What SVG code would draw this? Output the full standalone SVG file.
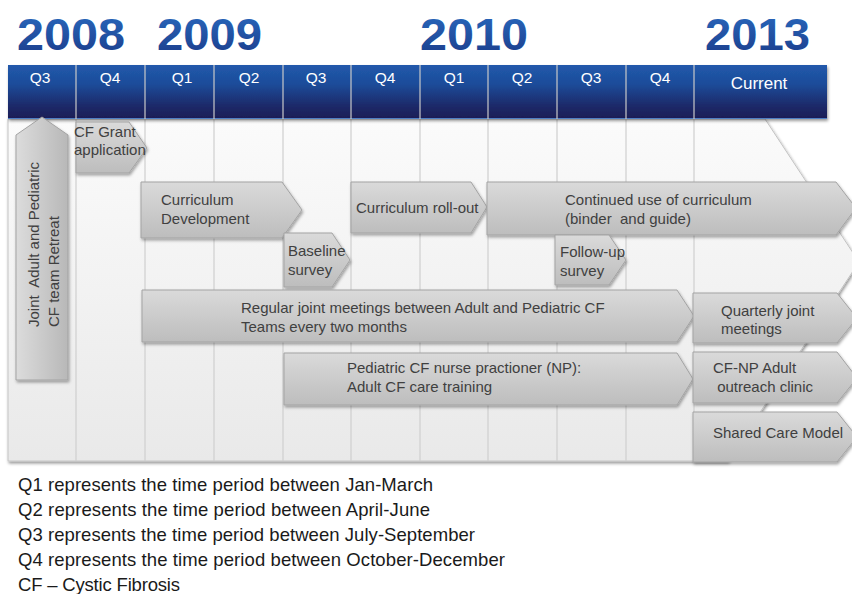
<svg xmlns="http://www.w3.org/2000/svg" width="852" height="594" viewBox="0 0 852 594">
<defs>
<linearGradient id="hdr" x1="0" y1="0" x2="0" y2="1">
<stop offset="0" stop-color="#2159ab"/>
<stop offset="0.35" stop-color="#1d4c9a"/>
<stop offset="0.75" stop-color="#1b2a6a"/>
<stop offset="1" stop-color="#1a1d55"/>
</linearGradient>
<linearGradient id="yr" x1="0" y1="0" x2="0" y2="1">
<stop offset="0" stop-color="#2a6bc0"/>
<stop offset="1" stop-color="#1a3a88"/>
</linearGradient>
<linearGradient id="pnl" x1="0" y1="0" x2="0" y2="1">
<stop offset="0" stop-color="#fbfbfb"/>
<stop offset="1" stop-color="#e9e9e9"/>
</linearGradient>
<linearGradient id="arr" x1="0" y1="0" x2="0" y2="1">
<stop offset="0" stop-color="#dadada"/>
<stop offset="1" stop-color="#bdbdbd"/>
</linearGradient>
<linearGradient id="varr" x1="0" y1="0" x2="1" y2="0">
<stop offset="0" stop-color="#dcdcdc"/>
<stop offset="1" stop-color="#b8b8b8"/>
</linearGradient>
<filter id="sh" x="-10%" y="-20%" width="130%" height="150%">
<feDropShadow dx="1" dy="2" stdDeviation="1.5" flood-color="#000" flood-opacity="0.35"/>
</filter>
<filter id="psh" x="-5%" y="-5%" width="115%" height="115%">
<feDropShadow dx="1" dy="2" stdDeviation="1.5" flood-color="#000" flood-opacity="0.4"/>
</filter>
</defs>
<style>
.yr{font-family:"Liberation Sans",Arial,sans-serif;font-weight:bold;font-size:45px;fill:url(#yr)}
.q{font-family:"Liberation Sans",Arial,sans-serif;font-size:15.5px;fill:#ffffff;text-anchor:middle}
.grid{stroke:#cfcfcf;stroke-width:1.2}
.a{fill:url(#arr);stroke:#a3a3a3;stroke-width:1;filter:url(#sh)}
.va{fill:url(#varr);stroke:#a3a3a3;stroke-width:1;filter:url(#sh)}
.t{font-family:"Liberation Sans",Arial,sans-serif;font-size:15px;fill:#404040;white-space:pre}
.lg{font-family:"Liberation Sans",Arial,sans-serif;font-size:18.5px;fill:#1a1a1a}
</style>
<rect width="852" height="594" fill="#ffffff"/>

<g id="years">
<text class="yr" x="17" y="50" textLength="108" lengthAdjust="spacingAndGlyphs">2008</text>
<text class="yr" x="157" y="50" textLength="105" lengthAdjust="spacingAndGlyphs">2009</text>
<text class="yr" x="420" y="50" textLength="108" lengthAdjust="spacingAndGlyphs">2010</text>
<text class="yr" x="705" y="50" textLength="105" lengthAdjust="spacingAndGlyphs">2013</text>
</g>

<g id="panel">
<polygon points="8,119 765,119 859,262 728,461 8,461" fill="url(#pnl)" stroke="#c4c4c4" stroke-width="1" filter="url(#psh)"/>
<g class="grid">
<line x1="76" y1="119" x2="76" y2="461"/>
<line x1="145" y1="119" x2="145" y2="461"/>
<line x1="214" y1="119" x2="214" y2="461"/>
<line x1="283" y1="119" x2="283" y2="461"/>
<line x1="351" y1="119" x2="351" y2="461"/>
<line x1="420" y1="119" x2="420" y2="461"/>
<line x1="488" y1="119" x2="488" y2="461"/>
<line x1="557" y1="119" x2="557" y2="461"/>
<line x1="626" y1="119" x2="626" y2="461"/>
<line x1="694" y1="119" x2="694" y2="461"/>
</g>
</g>

<g id="header">
<rect x="8" y="65" width="819" height="54" fill="url(#hdr)" filter="url(#psh)"/>
<line x1="8" y1="118.5" x2="827" y2="118.5" stroke="#4f7fc4" stroke-width="1"/>
<g stroke="#c9c9c9" stroke-width="1.2">
<line x1="76" y1="65" x2="76" y2="119"/>
<line x1="145" y1="65" x2="145" y2="119"/>
<line x1="214" y1="65" x2="214" y2="119"/>
<line x1="283" y1="65" x2="283" y2="119"/>
<line x1="351" y1="65" x2="351" y2="119"/>
<line x1="420" y1="65" x2="420" y2="119"/>
<line x1="488" y1="65" x2="488" y2="119"/>
<line x1="557" y1="65" x2="557" y2="119"/>
<line x1="626" y1="65" x2="626" y2="119"/>
<line x1="694" y1="65" x2="694" y2="119"/>
</g>
<text class="q" x="40" y="83">Q3</text>
<text class="q" x="110" y="83">Q4</text>
<text class="q" x="182" y="83">Q1</text>
<text class="q" x="249" y="83">Q2</text>
<text class="q" x="316" y="83">Q3</text>
<text class="q" x="385" y="83">Q4</text>
<text class="q" x="454" y="83">Q1</text>
<text class="q" x="522" y="83">Q2</text>
<text class="q" x="591" y="83">Q3</text>
<text class="q" x="660" y="83">Q4</text>
<text class="q" x="759" y="89" style="font-size:17px">Current</text>
</g>

<g id="retreat">
<polygon class="va" points="16,135 42,117 68,135 68,380 16,380"/>
<text class="t" xml:space="preserve" transform="translate(39,327) rotate(-90)">Joint  Adult and Pediatric</text>
<text class="t" transform="translate(59,327) rotate(-90)">CF team Retreat</text>
</g>

<g id="grant">
<polygon class="a" points="76,122 129,122 147,148 129,173 76,173"/>
<text class="t"><tspan x="74" y="137">CF Grant</tspan><tspan x="74" y="155">application</tspan></text>
</g>

<g id="curr-dev">
<polygon class="a" points="141,182 282,182 302,210 282,238 141,238"/>
<text class="t"><tspan x="161" y="205">Curriculum</tspan><tspan x="161" y="224">Development</tspan></text>
</g>

<g id="baseline">
<polygon class="a" points="284,233 332,233 350,260 332,287 284,287"/>
<text class="t"><tspan x="288" y="256">Baseline</tspan><tspan x="288" y="275">survey</tspan></text>
</g>

<g id="rollout">
<polygon class="a" points="351,182 471,182 487,207 471,233 351,233"/>
<text class="t" x="356" y="213">Curriculum roll-out</text>
</g>

<g id="continued">
<polygon class="a" points="487,182 836,182 856,208 836,235 487,235"/>
<text class="t" xml:space="preserve"><tspan x="565" y="205">Continued use of curriculum</tspan><tspan x="565" y="224">(binder  and guide)</tspan></text>
</g>

<g id="followup">
<polygon class="a" points="555,235 609,235 626,260 609,285 555,285"/>
<text class="t"><tspan x="560" y="257">Follow-up</tspan><tspan x="560" y="276">survey</tspan></text>
</g>

<g id="regular">
<polygon class="a" points="142,290 677,290 694,316 677,342 142,342"/>
<text class="t"><tspan x="241" y="313">Regular joint meetings between Adult and Pediatric CF</tspan><tspan x="241" y="332">Teams every two months</tspan></text>
</g>

<g id="np-training">
<polygon class="a" points="284,353 677,353 693,379 677,405 284,405"/>
<text class="t"><tspan x="347" y="373">Pediatric CF nurse practioner (NP):</tspan><tspan x="347" y="392">Adult CF care training</tspan></text>
</g>

<g id="quarterly">
<polygon class="a" points="693,293 837,293 857,318 837,343 693,343"/>
<text class="t"><tspan x="721" y="316">Quarterly joint</tspan><tspan x="721" y="334">meetings</tspan></text>
</g>

<g id="outreach">
<polygon class="a" points="693,352 837,352 857,378 837,403 693,403"/>
<text class="t" xml:space="preserve"><tspan x="713" y="373">CF-NP Adult</tspan><tspan x="713" y="392"> outreach clinic</tspan></text>
</g>

<g id="shared">
<polygon class="a" points="693,412 837,412 857,437 837,462 693,462"/>
<text class="t" x="713" y="438">Shared Care Model</text>
</g>

<g id="legend">
<text class="lg" x="18" y="491" textLength="415">Q1 represents the time period between Jan-March</text>
<text class="lg" x="18" y="516" textLength="412">Q2 represents the time period between April-June</text>
<text class="lg" x="18" y="541" textLength="457">Q3 represents the time period between July-September</text>
<text class="lg" x="18" y="566" textLength="487">Q4 represents the time period between October-December</text>
<text class="lg" x="18" y="591" textLength="162">CF – Cystic Fibrosis</text>
</g>
</svg>
